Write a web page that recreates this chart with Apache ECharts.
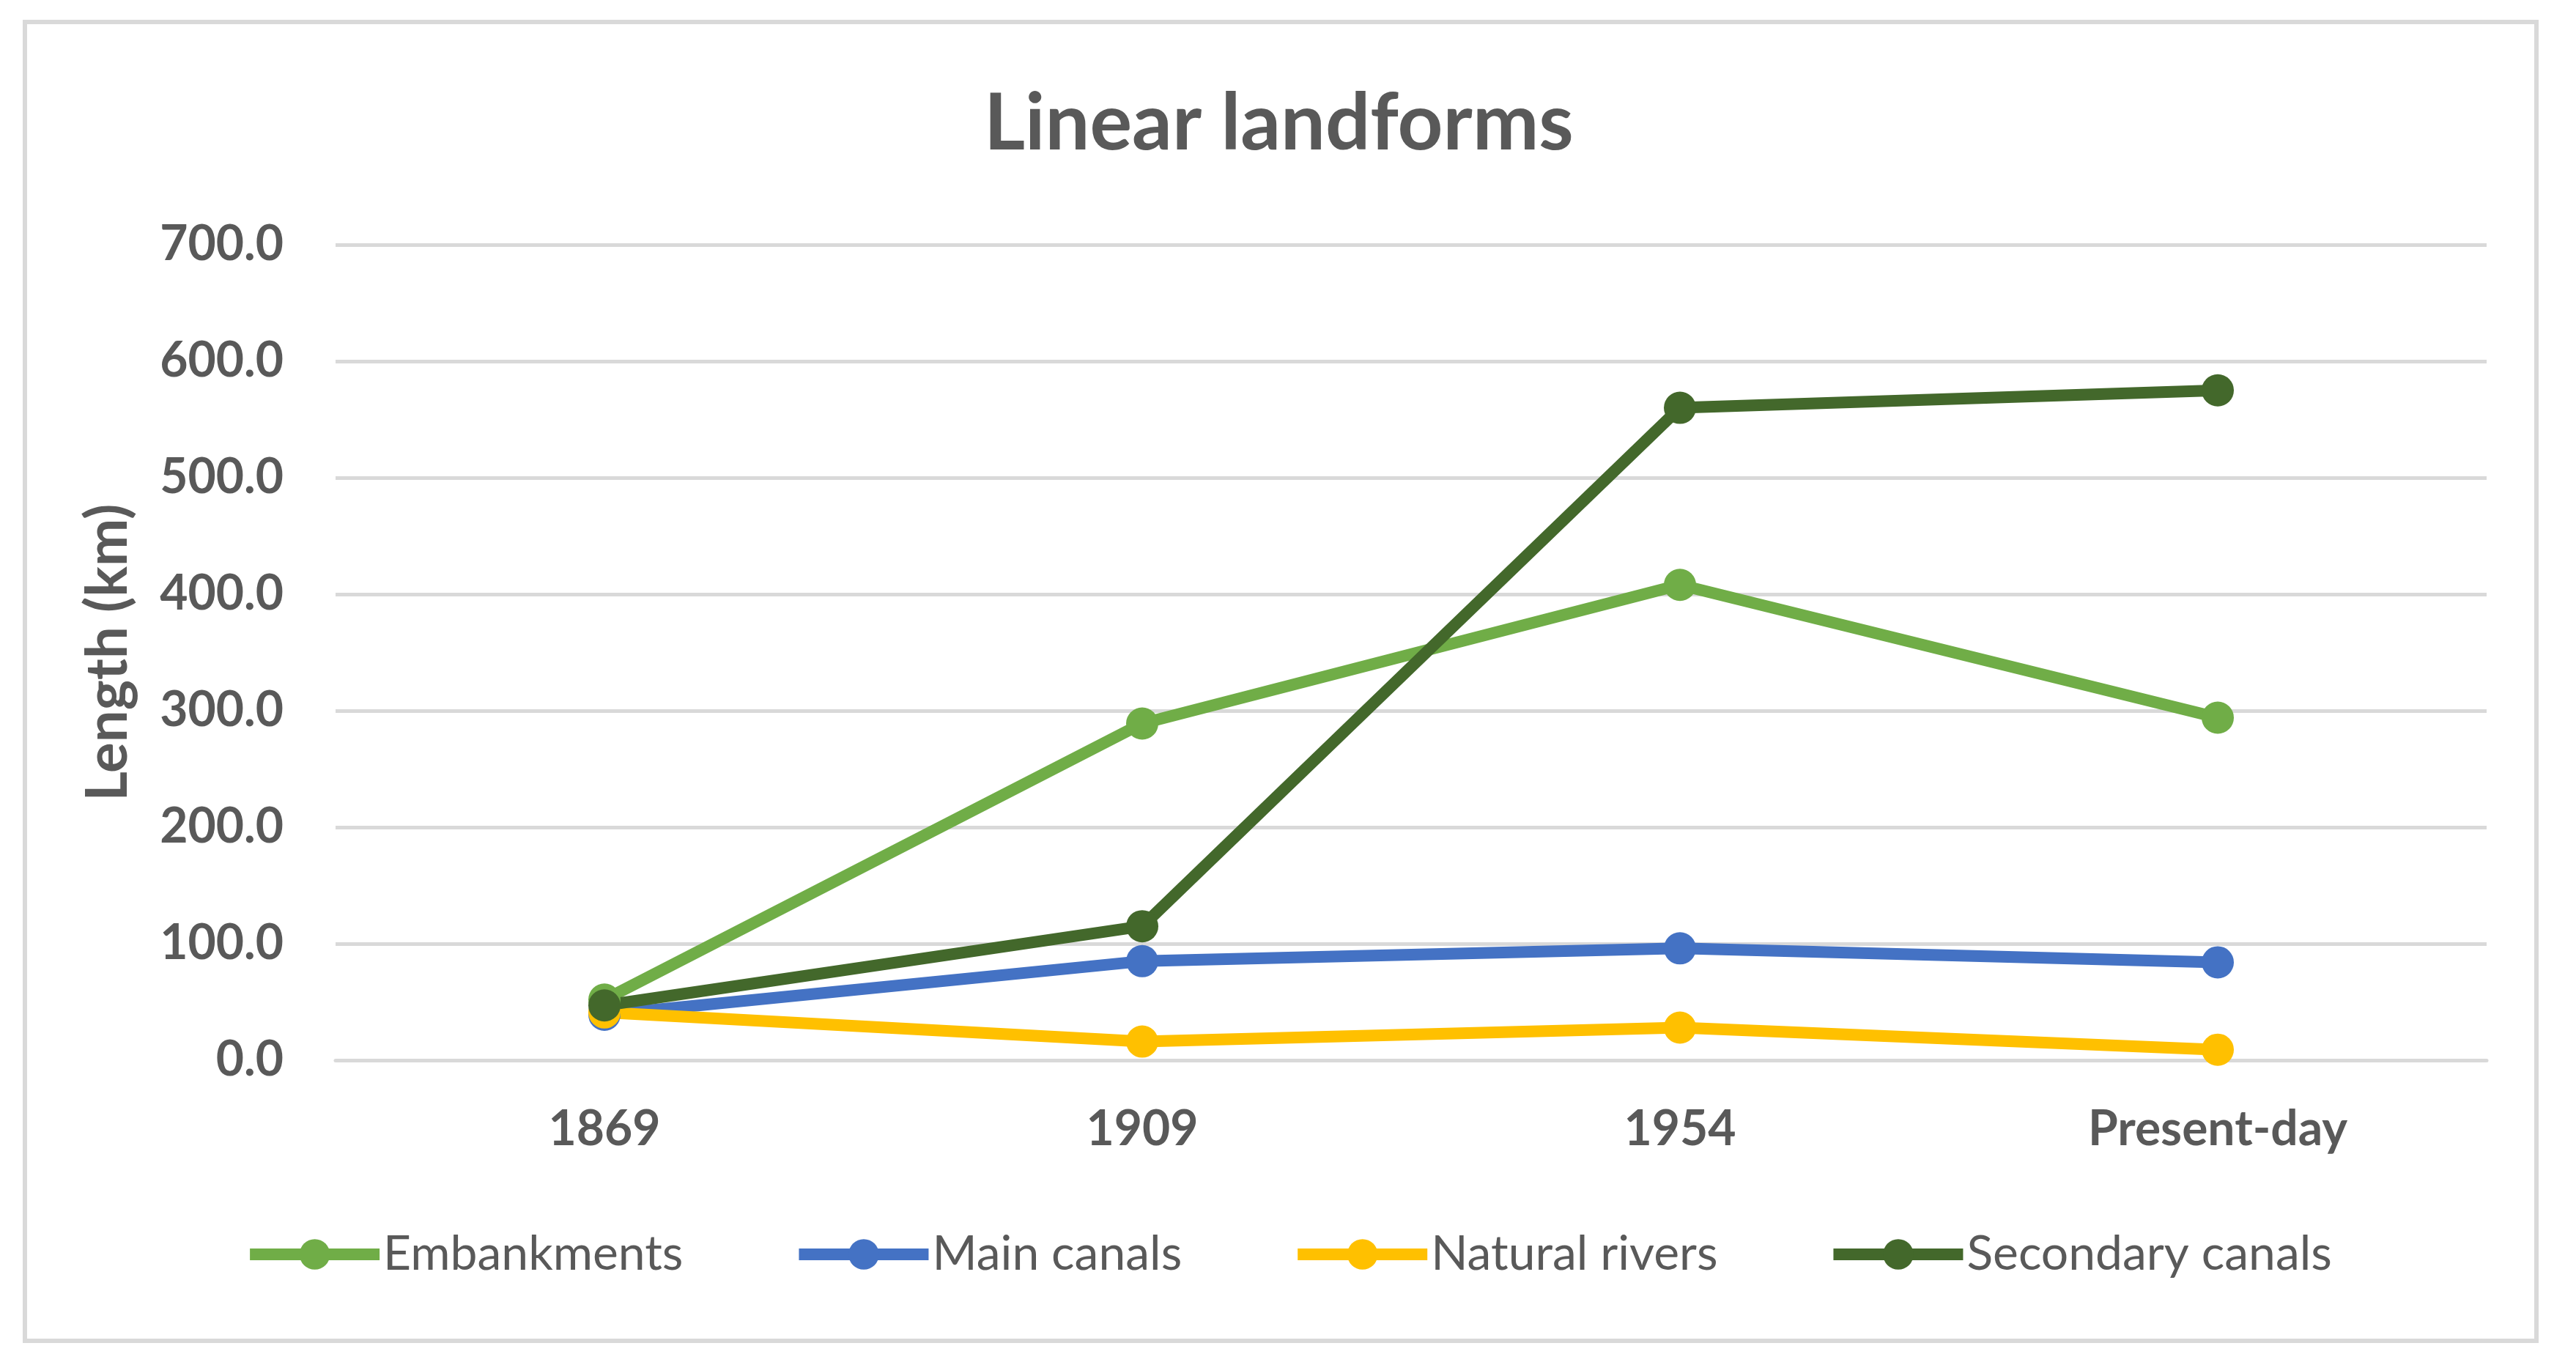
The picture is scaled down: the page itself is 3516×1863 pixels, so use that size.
<!DOCTYPE html>
<html>
<head>
<meta charset="utf-8">
<script src="https://cdn.jsdelivr.net/npm/echarts@6/dist/echarts.min.js"></script>
<style>
html,body{margin:0;padding:0;background:#fff;}
#chart{width:3516px;height:1863px;}
</style>
</head>
<body>
<div id="chart"></div>
<script>
const categories = ['1869', '1909', '1954', 'Present-day'];
const embankments = [52, 289, 408, 294];
const mainCanals = [39, 85, 96, 84];
const naturalRivers = [41, 16, 28, 9];
const secondaryCanals = [47, 115, 560, 575];
const yTicks = {min: 0, max: 700, interval: 100};

const textColor = '#595959';
const gridColor = '#D9D9D9';
const font = 'Lato';

function lineSeries(name, data, color) {
  return {
    name: name,
    type: 'line',
    data: data,
    symbol: 'circle',
    symbolSize: 44,
    itemStyle: {color: color},
    lineStyle: {color: color, width: 16},
    emphasis: {disabled: true},
    animation: false
  };
}

const chart = echarts.init(document.getElementById('chart'), null, {renderer: 'canvas'});
chart.setOption({
  backgroundColor: '#ffffff',
  animation: false,
  graphic: [{
    type: 'rect',
    shape: {x: 34, y: 30, width: 3428, height: 1800},
    style: {fill: 'none', stroke: gridColor, lineWidth: 6},
    silent: true,
    z: -1
  }],
  title: {
    text: 'Linear landforms',
    left: 1338,
    top: 110,
    textStyle: {fontFamily: font, fontWeight: 'bold', fontSize: 108, color: textColor}
  },
  legend: {
    left: 'center',
    top: 1674,
    itemWidth: 177,
    itemHeight: 52,
    itemGap: 150,
    lineStyle: {width: 16},
    textStyle: {fontFamily: font, fontSize: 66, color: textColor},
    data: ['Embankments', 'Main canals', 'Natural rivers', 'Secondary canals']
  },
  grid: {left: 458, right: 122, top: 334, bottom: 416, containLabel: false},
  xAxis: {
    type: 'category',
    data: categories,
    boundaryGap: true,
    axisLine: {show: true, lineStyle: {color: gridColor, width: 5}},
    axisTick: {show: false},
    axisLabel: {margin: 62, fontFamily: font, fontWeight: 'bold', fontSize: 66, color: textColor}
  },
  yAxis: {
    type: 'value',
    min: yTicks.min,
    max: yTicks.max,
    interval: yTicks.interval,
    name: 'Length (km)',
    nameLocation: 'middle',
    nameGap: 271,
    nameTextStyle: {fontFamily: font, fontWeight: 'bold', fontSize: 78, color: textColor},
    axisLine: {show: false},
    axisTick: {show: false},
    axisLabel: {margin: 71, fontFamily: font, fontWeight: 'bold', fontSize: 66, color: textColor,
      formatter: function (v) { return v.toFixed(1); }},
    splitLine: {show: true, lineStyle: {color: gridColor, width: 5}}
  },
  series: [
    lineSeries('Embankments', embankments, '#70AD47'),
    lineSeries('Main canals', mainCanals, '#4472C4'),
    lineSeries('Natural rivers', naturalRivers, '#FFC000'),
    lineSeries('Secondary canals', secondaryCanals, '#43682B')
  ]
});
</script>
</body>
</html>
